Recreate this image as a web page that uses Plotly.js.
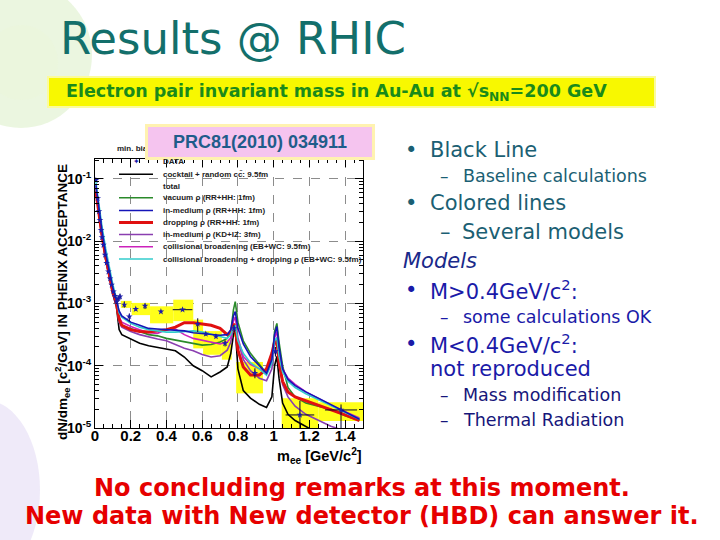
<!DOCTYPE html>
<html>
<head>
<meta charset="utf-8">
<script src="https://cdn.plot.ly/plotly-3.0.1.min.js"></script>
<style>html,body{margin:0;padding:0;background:#fff}#chart{width:720px;height:540px}</style>
</head>
<body>
<div id="chart"></div>
<script>
// ---------- DATA ----------
const massGrid = [0.005,0.02,0.04,0.06,0.08,0.1,0.12,0.135,0.15,0.2,0.25,0.3,0.35,0.4,0.45,0.5,0.55,0.6,0.65,0.7,0.74,0.76,0.775,0.785,0.8,0.83,0.87,0.92,0.96,0.99,1.005,1.018,1.03,1.05,1.08,1.12,1.18,1.25,1.32,1.4,1.48];

const cocktail = [6.31e-2,2.82e-2,1.12e-2,5.01e-3,2.51e-3,1.41e-3,8.91e-4,3.8e-4,3.16e-4,2.69e-4,2.29e-4,2.09e-4,1.95e-4,1.86e-4,1.74e-4,1.38e-4,1.0e-4,8.32e-5,6.61e-5,7.94e-5,9.55e-5,1.58e-4,3.16e-4,3.98e-4,8.91e-5,3.98e-5,3.02e-5,2.4e-5,2.14e-5,3.16e-5,1.0e-4,1.41e-4,6.31e-5,2.51e-5,1.66e-5,1.32e-5,1.05e-5,7.94e-6,6.31e-6,5.01e-6,3.98e-6];
const vacuumRho = [7.08e-2,3.16e-2,1.26e-2,5.62e-3,2.82e-3,1.58e-3,1.0e-3,5.01e-4,4.37e-4,3.98e-4,3.55e-4,3.16e-4,3.02e-4,2.75e-4,2.57e-4,2.4e-4,2.24e-4,2.14e-4,2.19e-4,2.4e-4,2.75e-4,3.55e-4,7.94e-4,1.07e-3,5.01e-4,2.51e-4,1.58e-4,1.07e-4,7.59e-5,1.12e-4,3.55e-4,4.79e-4,2.4e-4,1.0e-4,4.47e-5,3.16e-5,2.51e-5,2.24e-5,2.0e-5,1.58e-5,1.32e-5];
const inMediumRR = [7.94e-2,3.55e-2,1.41e-2,6.31e-3,3.16e-3,1.78e-3,1.12e-3,7.59e-4,6.31e-4,5.01e-4,4.47e-4,3.98e-4,3.89e-4,3.8e-4,3.72e-4,3.63e-4,3.39e-4,3.31e-4,3.16e-4,3.09e-4,3.16e-4,3.8e-4,6.31e-4,7.41e-4,3.98e-4,2.24e-4,1.41e-4,1.0e-4,7.59e-5,1.26e-4,3.16e-4,4.27e-4,2.0e-4,8.91e-5,6.03e-5,4.79e-5,3.8e-5,3.02e-5,2.4e-5,1.82e-5,1.38e-5];
const droppingRR = [6.31e-2,2.82e-2,1.2e-2,5.62e-3,2.82e-3,1.51e-3,1.0e-3,5.62e-4,4.47e-4,3.8e-4,3.55e-4,3.47e-4,3.63e-4,3.8e-4,4.17e-4,4.9e-4,4.9e-4,4.68e-4,4.47e-4,3.98e-4,3.16e-4,3.47e-4,4.68e-4,4.17e-4,1.78e-4,9.55e-5,7.08e-5,7.08e-5,8.91e-5,1.58e-4,2.4e-4,2.51e-4,1.12e-4,5.62e-5,3.8e-5,3.16e-5,2.75e-5,2.34e-5,2.0e-5,1.62e-5,1.32e-5];
const inMediumKD = [6.31e-2,2.82e-2,1.12e-2,5.01e-3,2.51e-3,1.41e-3,9.55e-4,5.01e-4,4.17e-4,3.55e-4,3.16e-4,2.88e-4,2.69e-4,2.51e-4,2.19e-4,1.91e-4,1.74e-4,1.51e-4,1.38e-4,1.45e-4,1.78e-4,2.4e-4,4.17e-4,4.47e-4,2.51e-4,1.26e-4,8.32e-5,6.31e-5,5.75e-5,8.91e-5,2.24e-4,2.82e-4,1.12e-4,5.01e-5,3.16e-5,2.24e-5,1.66e-5,1.32e-5,1.07e-5,8.91e-6,7.59e-6];
const collBroad = [7.59e-2,3.31e-2,1.32e-2,6.03e-3,3.02e-3,1.66e-3,1.07e-3,6.03e-4,5.01e-4,4.27e-4,3.8e-4,3.39e-4,3.31e-4,3.8e-4,3.89e-4,3.16e-4,2.75e-4,2.57e-4,2.4e-4,2.24e-4,2.4e-4,2.82e-4,5.25e-4,6.03e-4,2.82e-4,1.41e-4,1.05e-4,8.91e-5,8.32e-5,1.26e-4,2.82e-4,3.55e-4,1.58e-4,8.91e-5,6.31e-5,5.01e-5,3.8e-5,2.95e-5,2.34e-5,1.82e-5,1.45e-5];
const collBroadDrop = [8.91e-2,3.98e-2,1.66e-2,7.59e-3,3.8e-3,2.0e-3,1.2e-3,7.08e-4,6.03e-4,4.79e-4,4.17e-4,3.8e-4,3.63e-4,3.47e-4,3.47e-4,3.55e-4,3.63e-4,3.47e-4,3.24e-4,2.95e-4,2.75e-4,3.16e-4,4.17e-4,4.47e-4,2.51e-4,1.58e-4,1.12e-4,8.91e-5,7.08e-5,1.12e-4,2.51e-4,2.82e-4,1.41e-4,7.94e-5,5.62e-5,4.47e-5,3.55e-5,2.82e-5,2.29e-5,1.78e-5,1.38e-5];

const dataMass = [0.005,0.015,0.022,0.028,0.034,0.039,0.047,0.056,0.065,0.075,0.084,0.093,0.103,0.112,0.121,0.13,0.14,0.164,0.192,0.228,0.28,0.369,0.49,0.575,0.62,0.677,0.728,0.778,0.895,1.01,1.147,1.377];
const dataYield = [9.55e-2,4.9e-2,3.02e-2,2.19e-2,1.51e-2,1.15e-2,8.71e-3,6.03e-3,4.47e-3,3.24e-3,2.51e-3,2.0e-3,1.55e-3,1.32e-3,1.07e-3,1.2e-3,1.29e-3,9.55e-4,6.17e-4,8.13e-4,9.12e-4,7.41e-4,7.94e-4,4.68e-4,3.24e-4,2.95e-4,2.29e-4,3.98e-4,7.59e-5,1.7e-4,1.62e-5,1.95e-5];
const dataErrUp = [3e-3,1.5e-3,1e-3,7e-4,5e-4,4e-4,3e-4,2e-4,1.5e-4,1.2e-4,1e-4,8e-5,7e-5,6e-5,8e-5,1.3e-4,1.4e-4,1.2e-4,7e-5,5e-5,9e-5,4e-5,3e-5,1.1e-4,2e-5,2e-5,2.5e-5,5e-5,1.5e-5,3e-5,1.1e-5,4.4e-6];
const dataErrDown = [3e-3,1.5e-3,1e-3,7e-4,5e-4,4e-4,3e-4,2e-4,1.5e-4,1.2e-4,1e-4,8e-5,7e-5,6e-5,8e-5,1.3e-4,1.4e-4,1e-4,1e-4,5e-5,1e-4,4e-5,3e-5,1.2e-4,2e-5,2e-5,2.5e-5,5e-5,1.3e-5,3e-5,6.2e-6,9.5e-6];
const dataMassErr = [0,0,0,0,0,0,0,0,0,0,0,0,0,0,0,0,0,0,0,0,0,0,0.055,0,0,0,0,0,0,0,0.08,0.09];

const sysMassLo  = [0.145,0.205,0.308,0.438,0.55,0.605,0.71,0.765,0.79,1.045,1.25];
const sysMassHi  = [0.205,0.308,0.438,0.55,0.605,0.71,0.765,0.79,0.94,1.25,1.5];
const sysYieldLo = [8.5e-4,6.5e-4,4.8e-4,5.2e-4,1.9e-4,1.5e-4,1.25e-4,2.9e-4,3.6e-5,9.5e-6,1.3e-5];
const sysYieldHi = [1.1e-3,1.02e-3,9.0e-4,1.15e-3,5.5e-4,3.6e-4,2.6e-4,4.8e-4,1.15e-4,3.0e-5,2.6e-5];

const seriesNames = ['cocktail + random cc\u0304: 9.5fm','vacuum \u03c1 (RR+HH: 1fm)','in-medium \u03c1 (RR+HH: 1fm)','dropping \u03c1 (RR+HH: 1fm)','in-medium \u03c1 (KD+IZ: 3fm)','collisional broadening (EB+WC: 9.5fm)','collisional broadening + dropping \u03c1 (EB+WC: 9.5fm)'];
const seriesValues = [cocktail, vacuumRho, inMediumRR, droppingRR, inMediumKD, collBroad, collBroadDrop];
const seriesColors = ['#000000','#2a8a2a','#1414b8','#e01010','#8a3fb0','#cc22bb','#33cccc'];
const seriesWidths = [1.6,1.6,1.6,3,1.6,1.6,1.6];
const drawOrder = [0,1,4,5,3,6,2];

const xTickVals = [0,0.2,0.4,0.6,0.8,1,1.2,1.4];
const xTickText = ['0','0.2','0.4','0.6','0.8','1','1.2','1.4'];
const yTickVals = [1e-5,1e-4,1e-3,1e-2,1e-1];
const yTickText = ['10<sup>-5</sup>','10<sup>-4</sup>','10<sup>-3</sup>','10<sup>-2</sup>','10<sup>-1</sup>'];

// ---------- helpers (pixel -> paper) ----------
const W = 720, H = 540;
const px = x => x / W;
const py = y => 1 - y / H;

const traces = [];
for (let i = 0; i < sysMassLo.length; i++) {
  traces.push({
    type: 'scatter', mode: 'lines', hoverinfo: 'skip', showlegend: false,
    x: [sysMassLo[i], sysMassHi[i], sysMassHi[i], sysMassLo[i], sysMassLo[i]],
    y: [sysYieldLo[i], sysYieldLo[i], sysYieldHi[i], sysYieldHi[i], sysYieldLo[i]],
    fill: 'toself', fillcolor: '#ffff1a', line: {width: 0, color: '#ffff1a'}
  });
}
drawOrder.forEach(i => {
  traces.push({
    type: 'scatter', mode: 'lines', name: seriesNames[i], showlegend: false,
    x: massGrid, y: seriesValues[i],
    line: {color: seriesColors[i], width: seriesWidths[i]}
  });
});
traces.push({
  type: 'scatter', mode: 'markers', name: 'DATA', showlegend: false,
  x: dataMass, y: dataYield,
  marker: {symbol: 'star', size: 5, color: '#1a1aaa'},
  error_y: {type: 'data', symmetric: false, array: dataErrUp, arrayminus: dataErrDown, color: '#000033', thickness: 1, width: 0},
  error_x: {type: 'data', array: dataMassErr, color: '#000033', thickness: 1, width: 0}
});

const yMinor = [];
for (let e = -5; e <= -1; e++) for (let k = 2; k <= 9; k++) yMinor.push(k * Math.pow(10, e));

const slideFont = 'DejaVu Sans, Verdana, sans-serif';
const chartFont = 'Liberation Sans, Arial, sans-serif';
function txt(text, x, y, size, color, extra) {
  return Object.assign({
    xref: 'paper', yref: 'paper', x: px(x), y: py(y), text: text, showarrow: false,
    xanchor: 'left', yanchor: 'middle',
    font: {family: slideFont, size: size, color: color}
  }, extra || {});
}
const legendFont = {family: chartFont, size: 8, color: '#222'};

const annotations = [];
// title & banner text
annotations.push(txt('Results @ RHIC', 58, 38, 45, '#136f6b'));
annotations.push(txt('<b>Electron pair invariant mass in Au-Au at \u221as<sub>NN</sub>=200 GeV</b>', 64, 92, 17.5, '#1a8a1a'));
// legend header partially hidden
annotations.push(txt('<b>min. bias</b>', 115, 148, 8, '#333', {font: legendFont}));
// PRC box
annotations.push({
  xref: 'paper', yref: 'paper', x: px(260), y: py(141.5), showarrow: false,
  xanchor: 'center', yanchor: 'middle',
  text: '<b>PRC81(2010) 034911</b>',
  font: {family: chartFont, size: 18, color: '#1f5c8a'},
  bgcolor: '#f5c4ef', bordercolor: '#fff2b0', borderwidth: 3, borderpad: 3,
  width: 218, height: 24
});
// legend
const legendRowY = [174.3, 197.8, 210.5, 222.5, 234.5, 246.8, 259];
annotations.push(txt('\u2726', 131, 161.5, 8, '#1a1aaa', {font: {family: slideFont, size: 8, color: '#1a1aaa'}}));
annotations.push(txt('<b>DATA</b>', 161, 161.5, 8, '#222', {font: legendFont}));
annotations.push(txt('<b>total</b>', 161, 186, 8, '#222', {font: legendFont}));
seriesNames.forEach((n, i) => {
  annotations.push(txt('<b>' + n + '</b>', 161, legendRowY[i], 8, '#222', {font: legendFont}));
});
// axis titles
annotations.push({
  xref: 'paper', yref: 'paper', x: px(62), y: py(302), showarrow: false, textangle: -90,
  xanchor: 'center', yanchor: 'middle',
  text: '<b>dN/dm<sub>ee</sub> [c<sup>2</sup>/GeV] IN PHENIX ACCEPTANCE</b>',
  font: {family: chartFont, size: 13.5, color: '#000'}
});
annotations.push({
  xref: 'paper', yref: 'paper', x: px(364), y: py(456), showarrow: false,
  xanchor: 'right', yanchor: 'middle',
  text: '<b>m<sub>ee</sub> [GeV/c<sup>2</sup>]</b>',
  font: {family: chartFont, size: 14.5, color: '#000'}
});
// right column
const teal = '#1b5f73', navy = '#1a2a8a', blue = '#1a1aa8', dblue = '#16167a';
annotations.push(txt('\u2022', 403, 150, 21, teal));
annotations.push(txt('Black Line', 428, 150, 21, teal));
annotations.push(txt('\u2013', 438, 176, 17, teal));
annotations.push(txt('Baseline calculations', 461, 176, 17.5, teal));
annotations.push(txt('\u2022', 403, 203, 21, teal));
annotations.push(txt('Colored lines', 428, 203, 21, teal));
annotations.push(txt('\u2013', 438, 232, 21, teal));
annotations.push(txt('Several models', 460, 232, 21, teal));
annotations.push(txt('<i>Models</i>', 401, 261, 21, navy));
annotations.push(txt('\u2022', 403, 290, 21, blue));
annotations.push(txt('M&gt;0.4GeV/c<sup>2</sup>:', 428, 290, 21, blue));
annotations.push(txt('\u2013', 438, 317, 17, blue));
annotations.push(txt('some calculations OK', 461, 317, 17.5, blue));
annotations.push(txt('\u2022', 403, 344, 21, blue));
annotations.push(txt('M&lt;0.4GeV/c<sup>2</sup>:', 428, 344, 21, blue));
annotations.push(txt('not reproduced', 428, 369, 21, blue));
annotations.push(txt('\u2013', 438, 395, 17, dblue));
annotations.push(txt('Mass modification', 461, 395, 17.5, dblue));
annotations.push(txt('\u2013', 438, 420, 17, dblue));
annotations.push(txt('Thermal Radiation', 461, 420, 17.5, dblue));
// bottom red text
annotations.push(txt('<b>No concluding remarks at this moment.</b>', 362, 488, 24, '#e60000', {xanchor: 'center'}));
annotations.push(txt('<b>New data with New detector (HBD) can answer it.</b>', 362, 516, 24, '#e60000', {xanchor: 'center'}));

const shapes = [
  // decorative background
  {type: 'circle', xref: 'paper', yref: 'paper', x0: px(-50), x1: px(92), y0: py(128), y1: py(-18), fillcolor: 'rgba(205,232,178,0.40)', line: {width: 0}, layer: 'below'},
  {type: 'circle', xref: 'paper', yref: 'paper', x0: px(-15), x1: px(58), y0: py(100), y1: py(25), fillcolor: 'rgba(235,246,220,0.7)', line: {width: 0}, layer: 'below'},
  {type: 'circle', xref: 'paper', yref: 'paper', x0: px(-70), x1: px(40), y0: py(580), y1: py(400), fillcolor: 'rgba(226,216,244,0.55)', line: {width: 0}, layer: 'below'},
  // banner
  {type: 'rect', xref: 'paper', yref: 'paper', x0: px(48), x1: px(655), y0: py(107), y1: py(77), fillcolor: '#f8f800', line: {color: '#fbfb9c', width: 2}, layer: 'below'}
];
legendRowY.forEach((y, i) => {
  shapes.push({type: 'line', xref: 'paper', yref: 'paper', x0: px(119), x1: px(153), y0: py(y), y1: py(y), line: {color: seriesColors[i], width: seriesWidths[i]}});
});

const layout = {
  width: W, height: H, autosize: false,
  margin: {l: 0, r: 0, t: 0, b: 0, pad: 0},
  paper_bgcolor: '#ffffff', plot_bgcolor: 'rgba(0,0,0,0)',
  showlegend: false,
  xaxis: {
    domain: [px(95), px(363)], range: [0, 1.5], anchor: 'y',
    tickmode: 'array', tickvals: xTickVals, ticktext: xTickText,
    ticks: 'inside', ticklen: 8, tickcolor: '#000', tickwidth: 1, ticklabelstandoff: -6,
    showline: true, linecolor: '#000', linewidth: 1, mirror: 'allticks',
    showgrid: true, gridcolor: '#8c8c8c', griddash: 'dash', gridwidth: 1, zeroline: false,
    minor: {tickmode: 'linear', tick0: 0, dtick: 0.05, ticks: 'inside', ticklen: 4, tickcolor: '#000', showgrid: false},
    tickfont: {family: chartFont, size: 15, color: '#000', weight: 'bold'}
  },
  yaxis: {
    domain: [py(428), py(159)], type: 'log', range: [-5, -0.68], anchor: 'x',
    tickmode: 'array', tickvals: yTickVals, ticktext: yTickText,
    ticks: 'inside', ticklen: 8, tickcolor: '#000', tickwidth: 1,
    showline: true, linecolor: '#000', linewidth: 1, mirror: 'allticks',
    showgrid: true, gridcolor: '#8c8c8c', griddash: 'dash', gridwidth: 1, zeroline: false,
    minor: {tickmode: 'array', tickvals: yMinor, ticks: 'inside', ticklen: 4, tickcolor: '#000', showgrid: false},
    tickfont: {family: chartFont, size: 14, color: '#000', weight: 'bold'}
  },
  annotations: annotations,
  shapes: shapes
};

Plotly.newPlot('chart', traces, layout, {displayModeBar: false, staticPlot: true});
</script>
</body>
</html>
